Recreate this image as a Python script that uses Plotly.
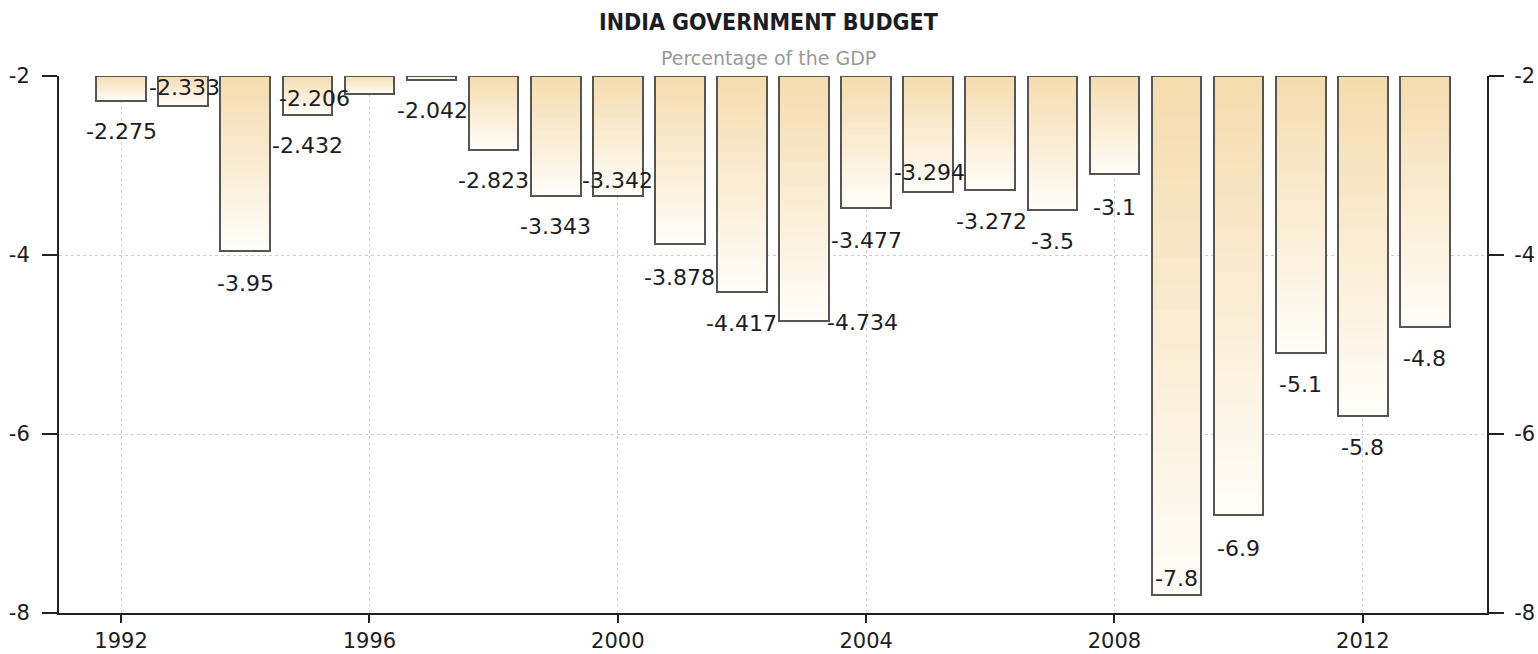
import plotly.graph_objects as go

# ---------------- data ----------------
years = list(range(1992, 2014))
budget = [-2.275, -2.333, -3.95, -2.432, -2.206, -2.042, -2.823, -3.343,
          -3.342, -3.878, -4.417, -4.734, -3.477, -3.294, -3.272, -3.5,
          -3.1, -7.8, -6.9, -5.1, -5.8, -4.8]
x_tick_vals = [1992, 1996, 2000, 2004, 2008, 2012]
y_tick_vals = [-2, -4, -6, -8]
y_tick_text = ["-2", "-4", "-6", "-8"]
base_level = -2
title_text = "INDIA GOVERNMENT BUDGET"
subtitle_text = "Percentage of the GDP"

# ---------------- label placement (pixels) ----------------
label_xshift = [0, 1, 0, 0, -55, 1, 0, 0, 0, 0, 0, 58, 0, 1, 1, 0, 0, 0, 0, 0, 0, 0]
label_yshift = [-31, 18, -33, -31, -4, -31, -31, -30, 16, -33, -31, -2, -32,
                19, -32, -31, -33, 17, -34, -31, -31, -32]

FONT = "Tahoma, DejaVu Sans, sans-serif"
TXT = "#1c1c24"
AX = "#222222"
top_rgb = (245, 220, 175)
bot_rgb = (255, 253, 248)
N_SEG = 40
BAR_W = 0.8

fig = go.Figure()

# gradient fill: stacked thin segments, colour from top (base) to bottom (bar end)
for k in range(N_SEG):
    f = k / (N_SEG - 1)
    c = tuple(round(top_rgb[i] + (bot_rgb[i] - top_rgb[i]) * f) for i in range(3))
    overlap = 1.0 if k == N_SEG - 1 else 1.6
    fig.add_trace(go.Bar(
        x=years,
        y=[(v - base_level) / N_SEG * overlap for v in budget],
        base=[base_level + (v - base_level) * k / N_SEG for v in budget],
        width=BAR_W,
        marker=dict(color="rgb(%d,%d,%d)" % c, line=dict(width=0)),
        hoverinfo="skip",
        showlegend=False,
    ))

# outline
fig.add_trace(go.Bar(
    x=years,
    y=[v - base_level for v in budget],
    base=base_level,
    width=BAR_W,
    marker=dict(color="rgba(0,0,0,0)", line=dict(color="#555555", width=2)),
    showlegend=False,
    hovertemplate="%{x}: %{customdata}<extra></extra>",
    customdata=budget,
))

# invisible trace to activate right axis
fig.add_trace(go.Scatter(x=[years[0]], y=[budget[0]], yaxis="y2", mode="markers",
                         marker=dict(opacity=0), hoverinfo="skip", showlegend=False))

annotations = []
for i, (yr, v) in enumerate(zip(years, budget)):
    annotations.append(dict(
        x=yr, y=v, xref="x", yref="y", text=str(v), showarrow=False,
        xanchor="center", yanchor="middle",
        xshift=label_xshift[i], yshift=label_yshift[i],
        font=dict(family=FONT, size=22, color=TXT),
    ))

annotations.append(dict(
    x=0.497, y=1.1006, xref="paper", yref="paper", text="<b>" + title_text + "</b>",
    showarrow=False, xanchor="center", yanchor="middle",
    font=dict(family="DejaVu Sans Condensed, " + FONT, size=23, color=TXT),
))
annotations.append(dict(
    x=0.497, y=1.0335, xref="paper", yref="paper", text=subtitle_text,
    showarrow=False, xanchor="center", yanchor="middle",
    font=dict(family=FONT, size=19, color="#999999"),
))

axis_common = dict(
    showline=True, linecolor=AX, linewidth=2,
    ticks="outside", tickcolor=AX, tickwidth=2,
    tickfont=dict(family=FONT, size=21, color=TXT),
    zeroline=False, automargin=False,
)

fig.update_layout(
    width=1538, height=654,
    margin=dict(l=59, r=51, t=76, b=41, autoexpand=False),
    paper_bgcolor="white", plot_bgcolor="white",
    barmode="overlay", bargap=0,
    showlegend=False,
    annotations=annotations,
    xaxis=dict(range=[1991, 2014], tickvals=x_tick_vals, ticklen=8,
               showgrid=True, gridcolor="#cfcfcf", griddash="dot", gridwidth=1,
               ticklabelstandoff=0, **axis_common),
    yaxis=dict(range=[-8, -2], tickvals=y_tick_vals, ticktext=y_tick_text, ticklen=15,
               showgrid=True, gridcolor="#cfcfcf", griddash="dot", gridwidth=1,
               ticklabelstandoff=8, **axis_common),
    yaxis2=dict(range=[-8, -2], tickvals=y_tick_vals, ticktext=y_tick_text, ticklen=15,
                overlaying="y", side="right", showgrid=False, ticklabelstandoff=6,
                **axis_common),
)

fig.write_html(
    "out.html",
    config={"displayModeBar": False},
    post_script="document.body.style.margin='0';document.body.style.overflow='hidden';",
)
